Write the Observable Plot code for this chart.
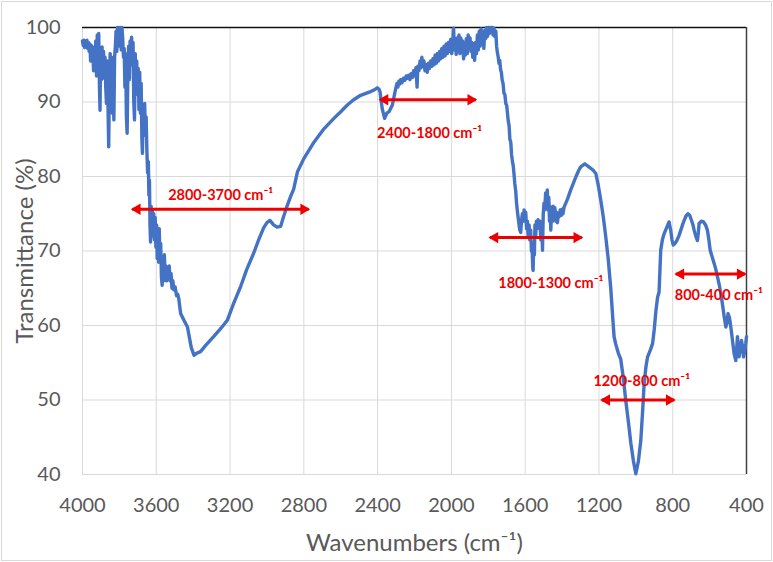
<!DOCTYPE html>
<html><head><meta charset="utf-8">
<script src="https://cdn.jsdelivr.net/npm/d3@7"></script>
<script src="https://cdn.jsdelivr.net/npm/@observablehq/plot@0.6"></script>
<style>body{margin:0;background:#fff}</style>
</head><body><div id="chart"></div>
<script>
const wavenumber = [
4000,3996,3992,3988,3984,3980,3976,3972,3968,3964,3960,3956,3952,3948,3944,3940,3936,3932,3928,3924,
3920,3916,3912,3908,3905,3902,3898,3894,3890,3886,3882,3878,3874,3870,3866,3862,3858,3854,3850,3846,
3842,3838,3834,3830,3826,3822,3818,3814,3810,3806,3802,3798,3794,3790,3786,3782,3778,3774,3770,3766,
3762,3758,3754,3750,3746,3742,3738,3734,3730,3726,3722,3718,3714,3710,3706,3702,3698,3694,3690,3686,
3682,3678,3675,3671,3667,3663,3659,3655,3651,3647,3643,3640,3637,3634,3631,3628,3625,3622,3618,3614,
3610,3606,3602,3598,3595,3591,3587,3584,3580,3576,3572,3568,3564,3560,3556,3552,3548,3544,3540,3535,
3530,3525,3520,3515,3510,3505,3498,3490,3484,3478,
3468,3450,3431,3410,3395,3380,3360,3330,3289,3250,3215,3180,3143,3110,3072,3045,3018,3000,2984,
2964,2945,2926,2910,2890,2872,2855,2835,2800,2745,2691,2637,2600,2564,2530,2492,2460,2438,2420,2402,
2392,2387,2380,2375,2362,2350,2338,2320,
2302,2295,2290,2285,2280,2275,2268,2260,2252,2245,2239,2232,2225,2218,2211,2205,2198,2192,2186,2182,
2176,2170,2165,2160,2155,2149,2143,2137,2131,2125,2119,2112,2106,2100,2094,2088,2082,2076,2070,2064,
2058,2052,2046,2040,2034,2028,2022,2016,2010,2004,1998,1993,1988,1984,1979,1974,1969,1964,1959,1954,
1949,1944,1939,1934,1929,1924,1919,1914,1909,1904,1899,1894,1889,1884,1879,1874,1869,1864,1859,1854,
1849,1844,1839,1834,1829,1824,1819,1814,1809,1804,1799,1794,1789,1784,1779,1774,1769,1764,1759,1755,
1751,1746,1742,1738,1733,1729,1725,1720,1715,1710,1705,1700,1696,1692,1687,1683,1678,1674,1669,1665,
1660,1656,1651,1647,1642,1638,1633,1629,1624,1620,1615,1610,1606,1601,1597,1592,1588,1584,1579,1575,
1570,1566,1563,1559,1557,1554,1550,1547,1543,1539,1534,1530,1525,1520,1515,1510,1506,1502,1498,1494,
1489,1485,1480,1476,1472,1468,1465,1461,1457,1452,1448,1443,1439,1434,1430,1425,1420,1416,1410,1404,
1400,1395,1389,1370,1353,1340,1326,1310,1299,1277,1260,1244,1230,1217,1205,1190,1176,
1163,1150,1136,1125,1118,1109,1095,1082,1068,1055,1040,1027,1013,1000,986,973,962,955,945,936,
920,909,900,891,882,874,865,856,847,835,820,811,804,797,788,778,767,756,747,738,
728,717,708,698,690,684,675,666,661,657,645,633,622,612,604,597,586,575,566,557,
548,539,530,521,512,505,500,492,485,476,467,458,453,449,444,440,433,427,421,416,
410,404,400];
const transmittance = [
98.2,97.6,98.3,97.3,98.1,97.5,98.3,97.2,98.0,96.8,97.8,95.5,97.6,96.2,97.0,94.2,97.4,95.0,98.2,93.5,
99.0,95.5,99.2,92.0,88.9,96.0,93.0,97.4,94.5,96.8,93.2,96.0,92.0,89.8,95.5,90.0,84.0,93.0,96.5,90.5,
96.0,88.5,95.5,87.6,96.0,97.4,99.5,96.8,100,97.5,100,98.0,100,97.0,100,98.5,96.0,97.2,92.0,96.5,
88.0,85.8,94.0,97.5,93.0,98.2,95.0,98.7,96.0,98.0,90.0,87.6,96.5,92.0,95.5,91.0,94.5,89.0,94.0,88.5,
92.5,85.0,83.1,89.0,86.5,89.8,85.5,88.0,83.5,80.5,82.0,77.5,79.5,73.5,71.2,76.0,74.0,75.5,72.0,75.0,
71.5,74.5,70.5,73.5,69.0,72.5,68.5,73.0,69.0,71.0,66.5,65.4,69.0,66.0,69.5,66.5,68.0,66.0,67.5,66.5,
68.0,66.0,67.0,65.0,66.0,64.8,65.2,64.0,64.2,63.6,
61.6,60.7,59.8,57.0,56.0,56.3,56.5,57.4,58.5,59.6,60.7,63.0,65.2,67.5,69.7,71.5,73.1,73.8,74.1,
73.5,73.2,73.3,74.6,76.1,77.3,78.3,80.6,82.4,84.6,86.4,87.8,88.7,89.6,90.3,90.9,91.2,91.4,91.6,91.9,
91.7,91.4,90.0,89.1,87.8,88.5,88.7,89.6,
91.8,92.5,92.0,92.8,92.4,93.0,92.6,93.2,92.9,93.5,93.2,93.6,93.0,93.8,93.3,94.2,93.5,94.6,92.0,94.8,
94.2,95.5,94.6,96.0,94.8,95.5,94.2,95.0,94.0,95.2,94.5,95.5,94.8,95.8,95.0,96.3,95.2,96.5,95.5,96.8,
95.8,97.2,96.0,97.5,96.2,97.8,96.5,98.0,96.8,98.4,96.5,98.0,99.9,97.0,98.5,96.4,98.6,97.0,99.0,96.5,
98.6,96.8,98.2,95.8,97.5,96.3,98.5,96.5,99.0,97.2,98.6,96.8,98.0,96.0,97.8,95.6,98.0,96.5,99.0,97.0,
99.5,97.5,99.8,98.0,99.5,97.2,99.6,98.5,100,98.8,100,99.2,100,99.4,100,99.0,99.9,98.8,99.5,97.5,
96.7,96.0,95.2,95.6,94.3,94.0,93.0,92.5,91.2,91.0,89.8,89.5,88.5,87.5,86.8,85.0,84.6,83.0,82.0,81.5,
80.2,79.0,78.0,76.5,75.3,74.5,73.5,72.8,72.5,74.0,75.0,74.0,75.5,74.5,75.2,73.0,74.0,72.0,73.5,71.5,
72.8,70.0,71.0,67.8,67.4,70.5,69.5,73.5,72.0,74.0,73.0,74.2,73.2,74.0,71.5,73.5,70.1,75.0,76.4,75.5,
77.8,76.5,78.2,75.5,77.2,74.0,76.0,72.8,75.5,74.0,76.0,74.5,75.8,74.0,75.2,73.8,75.0,74.6,75.5,74.8,
75.6,75.0,75.9,77.0,78.2,79.0,79.9,80.8,81.3,81.7,81.4,81.1,80.8,80.4,79.0,76.8,74.5,
71.9,69.0,65.0,61.0,58.5,57.5,56.3,55.5,53.0,50.0,47.0,44.2,41.8,40.1,41.8,44.6,49.0,52.2,54.5,55.8,
56.8,57.6,59.5,62.0,63.8,64.5,70.1,71.5,72.3,73.0,73.9,72.8,71.5,70.8,71.0,71.4,72.0,72.8,73.5,74.1,
74.7,75.0,74.8,74.1,73.5,72.8,72.0,71.4,72.5,73.7,74.0,73.9,73.5,72.8,71.5,70.1,69.2,68.3,67.5,66.5,
65.5,64.3,62.8,61.2,59.8,60.5,61.6,61.0,59.8,58.0,56.2,55.3,57.0,58.5,57.0,55.8,57.0,58.0,57.0,55.8,
56.5,57.6,58.5];

const xTicks = [4000,3600,3200,2800,2400,2000,1600,1200,800,400];
const yTicks = [40,50,60,70,80,90,100];

const bandLabels = ["2800-3700 cm\u207B\u00B9","2400-1800 cm\u207B\u00B9","1800-1300 cm\u207B\u00B9","1200-800 cm\u207B\u00B9","800-400 cm\u207B\u00B9"];
const bandStart = [3730,2387,1791,1185,783];
const bandEnd = [2774,1868,1293,792,407];
const bandLevel = [75.6,90.3,71.8,50.0,66.9];
const labelX = [3251,2118,1461,968,550];
const labelY = [77.5,85.8,65.6,52.5,64.1];

const xTitle = "Wavenumbers (cm\u207B\u00B9)";
const yTitle = "Transmittance (%)";

const spectrum = wavenumber.map((w, i) => ({w, t: transmittance[i]}));
const bands = bandLabels.map((label, i) => ({label, a: bandStart[i], b: bandEnd[i], y: bandLevel[i], lx: labelX[i], ly: labelY[i]}));

const red = "#ee0000";
const gray = "#595959";

const chart = Plot.plot({
  width: 773, height: 562,
  marginLeft: 82, marginRight: 27, marginTop: 27, marginBottom: 88,
  style: {fontFamily: "Lato, 'Liberation Sans', Arial, sans-serif", background: "#fff"},
  x: {domain: [4000, 400]},
  y: {domain: [40, 100]},
  marks: [
    Plot.gridX(xTicks, {stroke: "#d9d9d9", strokeOpacity: 1, strokeWidth: 1}),
    Plot.gridY(yTicks, {stroke: "#d9d9d9", strokeOpacity: 1, strokeWidth: 1}),
    Plot.ruleY([yTicks[yTicks.length - 1]], {stroke: "#111", strokeWidth: 1.5}),
    Plot.ruleX([xTicks[xTicks.length - 1]], {stroke: "#404040", strokeWidth: 1.5}),
    Plot.axisX(xTicks, {tickSize: 0, tickPadding: 23, fontSize: 20, fill: gray, label: null, tickFormat: d => String(d)}),
    Plot.axisY(yTicks, {tickSize: 0, tickPadding: 22, fontSize: 20, fill: gray, label: null}),
    Plot.text([xTitle], {frameAnchor: "bottom", dy: 76, fontSize: 24, fill: gray}),
    Plot.text([yTitle], {frameAnchor: "left", textAnchor: "middle", dx: -57, rotate: -90, fontSize: 24, fill: gray}),
    Plot.line(spectrum, {x: "w", y: "t", stroke: "#4472C4", strokeWidth: 3.4, strokeLinejoin: "round"}),
    Plot.link(bands, {x1: "a", x2: "b", y1: "y", y2: "y", stroke: red, strokeWidth: 3}),
    Plot.dot(bands, {x: "a", y: "y", symbol: "triangle", r: 4.2, fill: red, stroke: "none", rotate: -90, dx: 5}),
    Plot.dot(bands, {x: "b", y: "y", symbol: "triangle", r: 4.2, fill: red, stroke: "none", rotate: 90, dx: -5}),
    Plot.text(bands, {x: "lx", y: "ly", text: "label", fill: red, fontSize: 14.5, fontWeight: "bold"})
  ]
});
chart.style.outline = "1px solid #d9d9d9";
chart.style.outlineOffset = "-2px";
document.getElementById("chart").appendChild(chart);
</script>
</body></html>
